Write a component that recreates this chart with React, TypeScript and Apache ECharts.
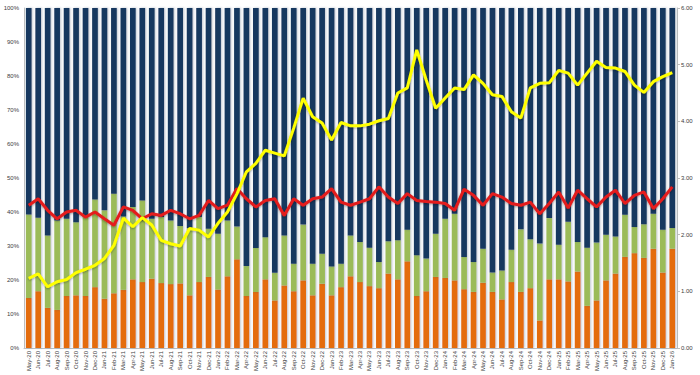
import React, { useEffect, useRef } from "react";
import * as echarts from "echarts";

const months = [
  "May-20","Jun-20","Jul-20","Aug-20","Sep-20","Oct-20","Nov-20","Dec-20",
  "Jan-21","Feb-21","Mar-21","Apr-21","May-21","Jun-21","Jul-21","Aug-21","Sep-21","Oct-21","Nov-21","Dec-21",
  "Jan-22","Feb-22","Mar-22","Apr-22","May-22","Jun-22","Jul-22","Aug-22","Sep-22","Oct-22","Nov-22","Dec-22",
  "Jan-23","Feb-23","Mar-23","Apr-23","May-23","Jun-23","Jul-23","Aug-23","Sep-23","Oct-23","Nov-23","Dec-23",
  "Jan-24","Feb-24","Mar-24","Apr-24","May-24","Jun-24","Jul-24","Aug-24","Sep-24","Oct-24","Nov-24","Dec-24",
  "Jan-25","Feb-25","Mar-25","Apr-25","May-25","Jun-25","Jul-25","Aug-25","Sep-25","Oct-25","Nov-25","Dec-25",
  "Jan-26",
];

// share (%) – bottom segment
const orangeShare = [
  14.7,16.7,11.8,11.2,15.3,15.5,15.3,17.9,14.5,16.1,17.1,20.2,19.4,20.4,19.1,18.8,19.0,15.5,19.4,20.9,17.2,21.1,26.1,
  15.3,16.5,20.2,14.0,18.4,16.7,19.9,15.5,18.9,15.5,17.9,21.1,19.4,18.2,17.6,21.9,20.2,25.5,15.3,16.7,20.9,20.6,19.9,
  17.3,16.5,19.2,16.5,14.3,19.4,16.5,17.6,8.1,20.2,20.2,19.6,22.5,12.4,14.0,19.9,21.9,26.8,27.9,26.5,29.2,22.2,29.2,
];
// share (%) – middle segment
const greenShare = [
  24.6,21.6,21.3,26.3,22.7,21.5,23.2,25.8,26.0,29.3,21.6,21.3,24.0,17.6,19.4,18.7,16.9,19.8,19.1,14.2,16.4,16.4,9.6,
  8.8,12.9,12.4,8.1,14.7,8.1,16.4,9.3,8.8,8.5,6.9,12.0,11.8,11.3,7.7,9.5,11.5,9.3,12.0,9.6,12.7,17.4,19.6,
  9.5,8.8,10.0,5.7,8.5,9.5,18.4,14.4,22.6,18.0,10.2,17.5,8.7,17.1,17.0,13.4,10.9,12.4,7.7,9.9,10.3,12.6,6.1,
];
// right axis line
const yellowLine = [
  1.23,1.31,1.08,1.17,1.21,1.33,1.39,1.46,1.58,1.81,2.29,2.14,2.30,2.17,1.90,1.84,1.80,2.11,2.08,1.96,2.20,2.40,2.72,
  3.11,3.26,3.49,3.44,3.39,3.88,4.41,4.08,3.97,3.67,3.98,3.92,3.92,3.95,4.01,4.05,4.50,4.59,5.26,4.73,4.23,4.41,4.59,
  4.56,4.82,4.67,4.47,4.44,4.17,4.06,4.59,4.67,4.68,4.90,4.85,4.64,4.85,5.06,4.95,4.94,4.88,4.64,4.51,4.70,4.79,4.86,
];
// left axis line (%)
const redLine = [
  42.0,43.9,40.5,38.0,40.0,40.5,38.5,40.0,38.0,36.1,41.5,40.5,38.0,39.5,39.0,40.5,39.5,38.0,39.0,43.4,41.0,42.0,46.9,
  43.9,41.5,43.4,43.9,39.0,43.9,42.0,43.9,44.4,46.9,42.9,42.0,42.9,43.9,47.4,44.4,42.5,45.4,43.4,43.1,42.9,42.5,40.5,
  46.7,44.9,42.0,45.4,44.4,42.5,42.0,42.9,39.5,42.5,45.9,41.2,46.4,43.9,41.5,44.4,46.4,42.5,44.9,45.9,41.0,43.9,47.4,
];

const navyShare = orangeShare.map((o, i) => +(100 - o - greenShare[i]).toFixed(1));

export default function App() {
  const ref = useRef<HTMLDivElement>(null);
  useEffect(() => {
    if (!ref.current) return;
    const chart = echarts.init(ref.current, null, { renderer: "svg" });
    const barShadow = {
      shadowColor: "rgba(60,80,110,0.35)",
      shadowBlur: 2,
      shadowOffsetX: 1,
    };
    const font = "Liberation Sans";
    chart.setOption({
      animation: false,
      backgroundColor: "#ffffff",
      grid: { left: 24, right: 23, top: 8, bottom: 27, containLabel: false },
      xAxis: {
        type: "category",
        data: months,
        axisLine: { show: true, lineStyle: { color: "#bfbfbf", width: 1 } },
        axisTick: { show: false },
        axisLabel: {
          rotate: 90,
          interval: 0,
          fontSize: 6,
          color: "#404040",
          fontFamily: font,
          margin: 3,
        },
      },
      yAxis: [
        {
          type: "value",
          min: 0,
          max: 100,
          interval: 10,
          axisLine: { show: true, lineStyle: { color: "#bfbfbf" } },
          axisTick: { show: false },
          splitLine: { show: false },
          axisLabel: {
            formatter: (v: number) => v + "%",
            fontSize: 6,
            color: "#404040",
            fontFamily: font,
            margin: 5,
          },
        },
        {
          type: "value",
          min: 0,
          max: 6,
          interval: 1,
          position: "right",
          axisLine: { show: true, lineStyle: { color: "#bfbfbf" } },
          axisTick: { show: true, length: 3, lineStyle: { color: "#bfbfbf" } },
          splitLine: { show: false },
          axisLabel: {
            formatter: (v: number) => v.toFixed(2),
            fontSize: 6,
            color: "#404040",
            fontFamily: font,
            margin: 4,
          },
        },
      ],
      series: [
        {
          type: "bar",
          stack: "share",
          data: orangeShare,
          barCategoryGap: "40%",
          itemStyle: { color: "#E46C0A", ...barShadow },
        },
        {
          type: "bar",
          stack: "share",
          data: greenShare,
          barCategoryGap: "40%",
          itemStyle: { color: "#9BBB59", ...barShadow },
        },
        {
          type: "bar",
          stack: "share",
          data: navyShare,
          barCategoryGap: "40%",
          itemStyle: { color: "#17375E", ...barShadow },
        },
        {
          type: "line",
          data: redLine,
          yAxisIndex: 0,
          symbol: "none",
          lineStyle: {
            color: "#E41B1B",
            width: 3,
            shadowColor: "rgba(0,0,0,0.35)",
            shadowBlur: 2,
            shadowOffsetY: 1,
          },
          z: 5,
        },
        {
          type: "line",
          data: yellowLine,
          yAxisIndex: 1,
          symbol: "none",
          lineStyle: {
            color: "#FFFF00",
            width: 3,
            shadowColor: "rgba(0,0,0,0.35)",
            shadowBlur: 2,
            shadowOffsetY: 1,
          },
          z: 6,
        },
      ],
    });
    return () => chart.dispose();
  }, []);
  return (
    <div
      ref={ref}
      style={{ width: 700, height: 375, position: "absolute", left: 0, top: 0 }}
    />
  );
}
